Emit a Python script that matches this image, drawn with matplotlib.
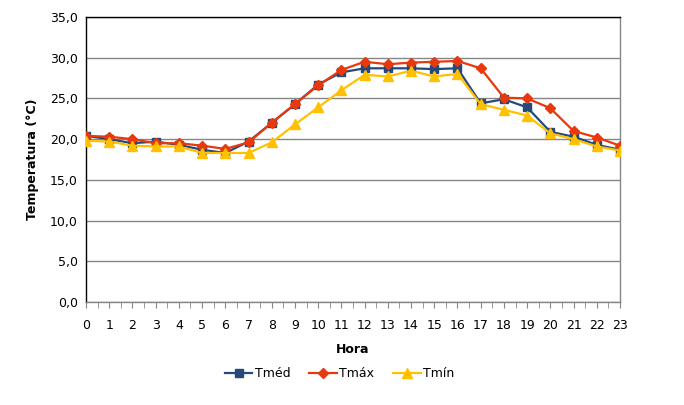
import matplotlib
matplotlib.use('Agg')
import matplotlib.pyplot as plt
from matplotlib.ticker import FuncFormatter, MultipleLocator

horas = list(range(24))
t_med = [20.4, 20.0, 19.5, 19.7, 19.3, 18.7, 18.3, 19.7, 22.0, 24.3, 26.7, 28.2,
         28.7, 28.7, 28.7, 28.6, 28.7, 24.4, 24.9, 23.9, 20.9, 20.3, 19.3, 18.7]
t_max = [20.4, 20.3, 20.0, 19.5, 19.5, 19.2, 18.8, 19.6, 22.0, 24.3, 26.6, 28.5,
         29.5, 29.2, 29.4, 29.5, 29.6, 28.7, 25.1, 25.0, 23.8, 21.0, 20.2, 19.2]
t_min = [19.8, 19.7, 19.2, 19.1, 19.1, 18.3, 18.3, 18.3, 19.6, 21.8, 23.9, 26.0,
         27.9, 27.7, 28.4, 27.7, 28.0, 24.3, 23.6, 22.9, 20.7, 20.0, 19.1, 18.6]

plt.rcParams['font.family'] = ['DejaVu Sans']
plt.rcParams['font.size'] = 9

fig = plt.figure(figsize=(6.84, 4.05), dpi=100)
ax = fig.add_axes([86 / 684, 1 - 302 / 405, 534 / 684, 285 / 405])

ax.plot(horas, t_med, color='#244A7C', lw=1.6, marker='s', ms=5.5, label='Tméd', zorder=3)
ax.plot(horas, t_max, color='#E8380D', lw=1.6, marker='D', ms=5, label='Tmáx', zorder=4)
ax.plot(horas, t_min, color='#FFC000', lw=1.6, marker='^', ms=6.5, label='Tmín', zorder=5)

ax.set_xlim(0, 23)
ax.set_ylim(0, 35)
ax.set_xticks(horas)
ax.xaxis.set_minor_locator(MultipleLocator(0.5))
ax.yaxis.set_major_locator(MultipleLocator(5))
ax.yaxis.set_major_formatter(FuncFormatter(lambda v, p: f'{v:.1f}'.replace('.', ',')))
ax.grid(axis='y', color='#868686', lw=1)
ax.set_axisbelow(True)

ax.tick_params(axis='y', length=0, pad=6)
ax.tick_params(axis='x', which='both', length=4, color='#868686', pad=8)
ax.spines['left'].set_color('black')
ax.spines['top'].set_color('black')
ax.spines['right'].set_color('#868686')
ax.spines['bottom'].set_color('#868686')
for s in ax.spines.values():
    s.set_linewidth(1)

ax.set_xlabel('Hora', fontweight='bold', labelpad=8)
ax.set_ylabel('Temperatura (°C)', fontweight='bold', labelpad=8)

ax.legend(loc='upper center', bbox_to_anchor=(0.475, -0.19), ncol=3, frameon=False,
          handlelength=2.2, handletextpad=0.2, columnspacing=1.5, fontsize=9)

plt.savefig('out.png', dpi=100)
